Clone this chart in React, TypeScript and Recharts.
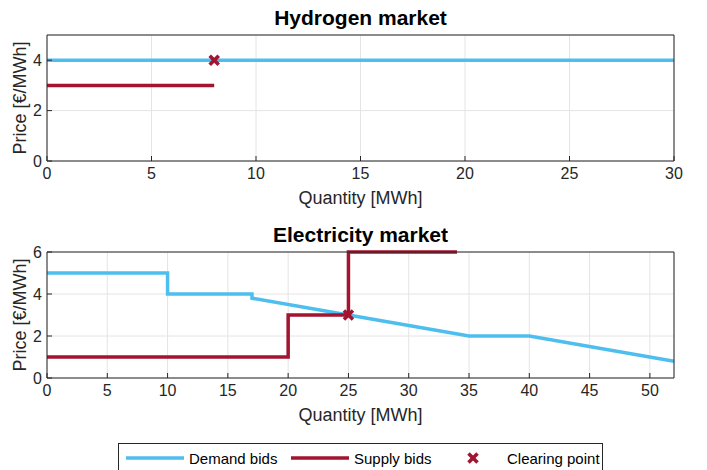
import React from 'react';
import { ComposedChart, Line, Scatter, XAxis, YAxis, CartesianGrid } from 'recharts';

// Hydrogen market bids
const h2Demand = [
  { q: 0, p: 4 },
  { q: 30, p: 4 },
];
const h2Supply = [
  { q: 0, p: 3 },
  { q: 8, p: 3 },
];
const h2Clearing = [{ q: 8, p: 4 }];

// Electricity market bids
const elDemand = [
  { q: 0, p: 5 },
  { q: 10, p: 5 },
  { q: 10, p: 4 },
  { q: 17, p: 4 },
  { q: 17, p: 3.8 },
  { q: 25, p: 3 },
  { q: 35, p: 2 },
  { q: 40, p: 2 },
  { q: 52, p: 0.8 },
];
const elSupply = [
  { q: 0, p: 1 },
  { q: 20, p: 1 },
  { q: 20, p: 3 },
  { q: 25, p: 3 },
  { q: 25, p: 6 },
  { q: 34, p: 6 },
];
const elClearing = [{ q: 25, p: 3 }];

const h2XTicks = [0, 5, 10, 15, 20, 25, 30];
const h2YTicks = [0, 2, 4];
const elXTicks = [0, 5, 10, 15, 20, 25, 30, 35, 40, 45, 50];
const elYTicks = [0, 2, 4, 6];

const BLUE = '#4DBEEE';
const RED = '#A2142F';
const AXIS = '#262626';
const FONT = '"Liberation Sans", Arial, Helvetica, sans-serif';

const Cross = (props: any) => {
  const { cx, cy } = props;
  const s = 4.5;
  return (
    <g stroke={RED} strokeWidth={3.6}>
      <line x1={cx - s} y1={cy - s} x2={cx + s} y2={cy + s} />
      <line x1={cx - s} y1={cy + s} x2={cx + s} y2={cy - s} />
    </g>
  );
};

interface MarketProps {
  title: string;
  top: number;
  demand: { q: number; p: number }[];
  supply: { q: number; p: number }[];
  clearing: { q: number; p: number }[];
  xMax: number;
  yMax: number;
  xTicks: number[];
  yTicks: number[];
}

const tickStyle = { fill: AXIS, fontSize: 16, fontFamily: FONT };

const MarketChart: React.FC<MarketProps> = ({ title, top, demand, supply, clearing, xMax, yMax, xTicks, yTicks }) => (
  <div style={{ position: 'absolute', left: 0, top, width: 707, height: 215 }}>
    <div
      style={{
        position: 'absolute',
        left: 47,
        width: 627,
        top: 7,
        textAlign: 'center',
        fontFamily: FONT,
        fontWeight: 'bold',
        fontSize: 21,
        lineHeight: '21px',
        color: '#000',
      }}
    >
      {title}
    </div>
    <ComposedChart width={707} height={215} margin={{ top: 34, right: 32, bottom: 11, left: 10 }}>
      <CartesianGrid stroke="#e4e4e4" strokeWidth={1} />
      <XAxis
        dataKey="q"
        type="number"
        domain={[0, xMax]}
        ticks={xTicks}
        height={43}
        stroke={AXIS}
        tickSize={-5}
        tickMargin={12}
        tick={tickStyle}
        label={{ value: 'Quantity [MWh]', position: 'insideBottom', offset: 0, fill: AXIS, fontSize: 18, fontFamily: FONT }}
      />
      <XAxis
        xAxisId="top"
        orientation="top"
        dataKey="q"
        type="number"
        domain={[0, xMax]}
        ticks={xTicks}
        height={1}
        stroke={AXIS}
        tickSize={-5}
        tickFormatter={() => ''}
      />
      <YAxis
        type="number"
        domain={[0, yMax]}
        ticks={yTicks}
        width={37}
        stroke={AXIS}
        tickSize={-5}
        tickMargin={10}
        tick={tickStyle}
        label={{
          value: 'Price [€/MWh]',
          angle: -90,
          position: 'insideLeft',
          offset: 10,
          fill: AXIS,
          fontSize: 18,
          fontFamily: FONT,
          style: { textAnchor: 'middle' },
        }}
      />
      <YAxis
        yAxisId="right"
        orientation="right"
        type="number"
        domain={[0, yMax]}
        ticks={yTicks}
        width={1}
        stroke={AXIS}
        tickSize={-5}
        tickFormatter={() => ''}
      />
      <Line data={demand} dataKey="p" stroke={BLUE} strokeWidth={3.5} dot={false} type="linear" isAnimationActive={false} />
      <Line data={supply} dataKey="p" stroke={RED} strokeWidth={3.5} dot={false} type="linear" isAnimationActive={false} />
      <Scatter data={clearing} dataKey="p" shape={Cross} isAnimationActive={false} />
    </ComposedChart>
  </div>
);

const LegendBox: React.FC = () => (
  <div
    style={{
      position: 'absolute',
      left: 118,
      top: 443,
      width: 483,
      height: 34,
      border: `1px solid ${AXIS}`,
      background: '#fff',
      fontFamily: FONT,
      fontSize: 15,
      color: '#000',
    }}
  >
    <svg width={483} height={34} style={{ position: 'absolute', left: 0, top: 0 }}>
      <line x1={7} y1={14} x2={65} y2={14} stroke={BLUE} strokeWidth={3.5} />
      <text x={70} y={19.5}>Demand bids</text>
      <line x1={172} y1={14} x2={230} y2={14} stroke={RED} strokeWidth={3.5} />
      <text x={235} y={19.5}>Supply bids</text>
      <Cross cx={354} cy={14} />
      <text x={388} y={19.5}>Clearing point</text>
    </svg>
  </div>
);

export default function App() {
  return (
    <div style={{ position: 'absolute', left: 0, top: 0, width: 707, height: 470, background: '#fff', overflow: 'hidden' }}>
      <MarketChart
        title="Hydrogen market"
        top={0}
        demand={h2Demand}
        supply={h2Supply}
        clearing={h2Clearing}
        xMax={30}
        yMax={5}
        xTicks={h2XTicks}
        yTicks={h2YTicks}
      />
      <MarketChart
        title="Electricity market"
        top={217}
        demand={elDemand}
        supply={elSupply}
        clearing={elClearing}
        xMax={52}
        yMax={6}
        xTicks={elXTicks}
        yTicks={elYTicks}
      />
      <LegendBox />
    </div>
  );
}
